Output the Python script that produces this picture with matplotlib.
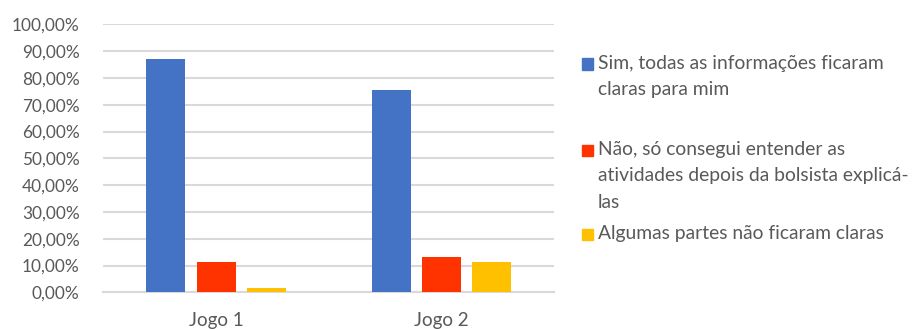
import matplotlib
matplotlib.use("Agg")
import matplotlib.pyplot as plt
from matplotlib.patches import Rectangle
import numpy as np

# Survey results per game (percent of respondents)
categories = ["Jogo 1", "Jogo 2"]
series_labels = [
    "Sim, todas as informações ficaram\nclaras para mim",
    "Não, só consegui entender as\natividades depois da bolsista explicá-\nlas",
    "Algumas partes não ficaram claras",
]
sim_claras = [86.89, 75.41]
nao_depois = [11.48, 13.11]
algumas_partes = [1.64, 11.48]
series_values = [sim_claras, nao_depois, algumas_partes]
colors = ["#4472C4", "#FF3300", "#FFC000"]
yticks = list(range(0, 101, 10))

FONT = "Lato"
TEXT = "#595959"
GRID = "#D9D9D9"

W, H = 915, 329
fig = plt.figure(figsize=(W / 100, H / 100), dpi=100)
ax = fig.add_axes([103.3 / W, 1 - 292.3 / H, 451.0 / W, 268.0 / H])

x = np.arange(len(categories))
width = 0.173
step = 0.222
for i, (vals, col) in enumerate(zip(series_values, colors)):
    ax.bar(x + (i - 1) * step, vals, width=width, color=col, zorder=3)

ax.set_xlim(-0.5, len(categories) - 0.5)
ax.set_ylim(0, 100)
ax.set_yticks(yticks)
ax.set_yticklabels([f"{v:.2f}%".replace(".", ",") for v in yticks],
                   fontfamily=FONT, fontsize=12.4, color=TEXT)
ax.set_xticks(x)
ax.set_xticklabels(categories, fontfamily=FONT, fontsize=13.5, color=TEXT)
ax.tick_params(axis="y", length=0, pad=17)
ax.tick_params(axis="x", length=0, pad=14)

ax.grid(axis="y", color=GRID, linewidth=1.5, zorder=0)
for s in ["top", "right", "left"]:
    ax.spines[s].set_visible(False)
ax.spines["bottom"].set_color(GRID)
ax.spines["bottom"].set_linewidth(1.5)

# Legend drawn as squares and wrapped labels on the right
line_h = 26
first_line_y = [64, 150, 234]
for label, col, ly in zip(series_labels, colors, first_line_y):
    fig.patches.append(Rectangle((582 / W, 1 - (ly + 5.5) / H), 10.5 / W, 11 / H,
                                 transform=fig.transFigure, color=col))
    for k, line in enumerate(label.split("\n")):
        fig.text(598 / W, 1 - (ly + k * line_h) / H, line, fontfamily=FONT,
                 fontsize=13.9, color=TEXT, va="center", ha="left")

fig.savefig("out.png", dpi=100, facecolor="white")
